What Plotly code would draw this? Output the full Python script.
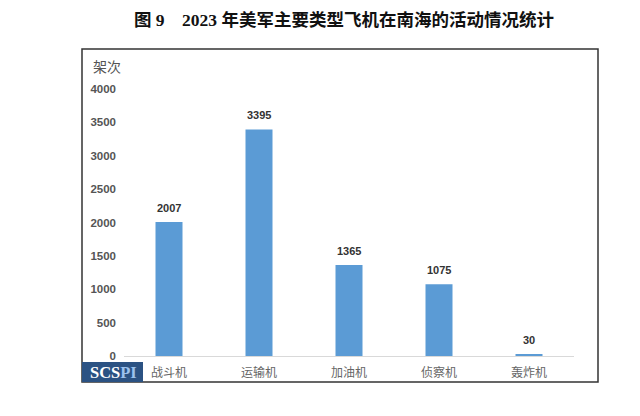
import plotly.graph_objects as go

categories = ["战斗机", "运输机", "加油机", "侦察机", "轰炸机"]
values = [2007, 3395, 1365, 1075, 30]
y_ticks = [0, 500, 1000, 1500, 2000, 2500, 3000, 3500, 4000]

OFF = 8  # page body margin
W, H = 640, 416
L, R, T, B = 124 - OFF, 66 + OFF, 89 - OFF, 60 + OFF
pw, ph = W - L - R, H - T - B

def px(x):
    return (x - OFF - L) / pw

def py(y):
    return (H - B - (y - OFF)) / ph

fig = go.Figure()
fig.add_trace(go.Bar(
    x=categories, y=values,
    marker=dict(color="#5b9bd5", line=dict(width=0)),
    width=0.30,
))

# value labels above bars
for c, v in zip(categories, values):
    fig.add_annotation(x=c, y=v, text=f"<b>{v}</b>", showarrow=False,
                       yanchor="bottom", yshift=6,
                       font=dict(family="Liberation Sans, Arial", size=11, color="#333333"))

fig.update_layout(
    width=W, height=H,
    margin=dict(l=L, r=R, t=T, b=B),
    paper_bgcolor="white", plot_bgcolor="white",
    showlegend=False,
    xaxis=dict(showgrid=False, showline=True, linecolor="#d9d9d9", linewidth=1,
               ticks="", ticklabelstandoff=6,
               tickfont=dict(family="Noto Sans CJK SC", size=12, color="#666666")),
    yaxis=dict(range=[0, 4000], tickvals=y_ticks, showgrid=False, zeroline=False,
               showline=False, ticks="", ticklabelstandoff=7,
               tickfont=dict(family="Liberation Sans, Arial", size=11.5, color="#555555"),
               ticktext=[f"<b>{v}</b>" for v in y_ticks]),
    title=dict(text="<b>图 9　2023 年美军主要类型飞机在南海的活动情况统计</b>",
               x=px(344), xanchor="center", xref="paper",
               y=1 - (20 - OFF) / H, yanchor="middle",
               font=dict(family="Liberation Serif, Noto Sans CJK SC", size=17.5, color="#111111")),
)

# outer frame
fig.add_shape(type="rect", xref="paper", yref="paper",
              x0=px(82), x1=px(598), y0=py(382), y1=py(49),
              line=dict(color="#333333", width=1.5), fillcolor="rgba(0,0,0,0)")

# y-axis unit label
fig.add_annotation(text="架次", xref="paper", yref="paper", x=px(91), y=py(66),
                   xanchor="left", yanchor="middle", showarrow=False,
                   font=dict(family="Noto Sans CJK SC", size=14, color="#555555"))

# SCSPI logo
fig.add_shape(type="rect", xref="paper", yref="paper",
              x0=px(82), x1=px(143), y0=py(382), y1=py(362),
              line=dict(width=0), fillcolor="#2b5283")
fig.add_annotation(text="<b>SCS<span style='color:#9cc2ee'>PI</span></b>",
                   xref="paper", yref="paper", x=px(113), y=py(372),
                   xanchor="center", yanchor="middle", showarrow=False,
                   font=dict(family="Liberation Serif", size=16.5, color="#ffffff"))

fig.write_html("out.html")
